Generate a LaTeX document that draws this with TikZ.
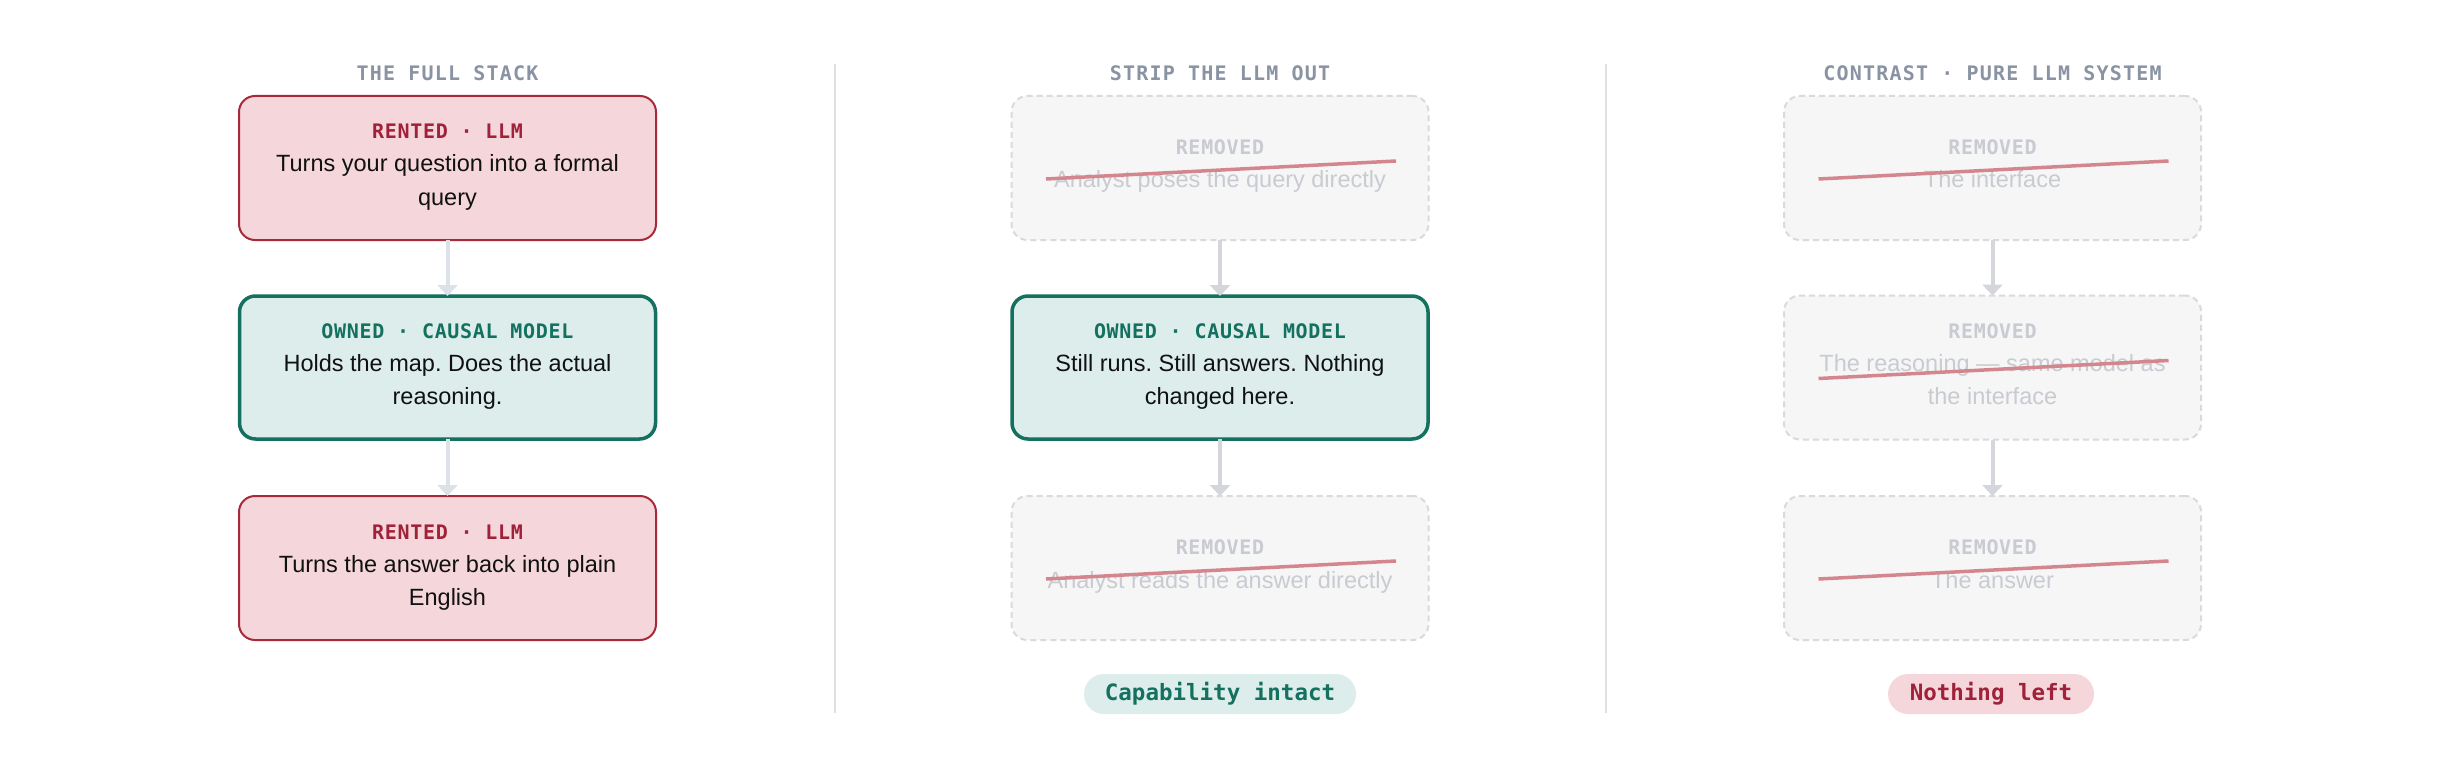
\documentclass[tikz,border=0pt]{standalone}
\usepackage{fontspec}
\setmainfont{Liberation Sans}
\newfontfamily\monolbl{DejaVu Sans Mono}[LetterSpace=3.5]
\newfontfamily\monottl{DejaVu Sans Mono}[LetterSpace=6]
\newfontfamily\monopill{DejaVu Sans Mono}
\usetikzlibrary{arrows.meta}
\frenchspacing
\definecolor{rentFill}{HTML}{F5D7DB}
\definecolor{rentLine}{HTML}{A8283C}
\definecolor{rentText}{HTML}{A0213A}
\definecolor{ownFill}{HTML}{DCEDEC}
\definecolor{ownLine}{HTML}{14705F}
\definecolor{ownText}{HTML}{14705F}
\definecolor{remFill}{HTML}{F6F6F6}
\definecolor{remLine}{HTML}{DADADE}
\definecolor{remText}{HTML}{C8CBD1}
\definecolor{strikeCol}{HTML}{D4868E}
\definecolor{ttlCol}{HTML}{8A93A3}
\definecolor{arrA}{HTML}{DDE1E8}
\definecolor{arrB}{HTML}{D4D6DB}
\definecolor{dividerCol}{HTML}{DDE0E5}
\definecolor{bodyCol}{HTML}{111111}
\begin{document}
\frenchspacing
\begin{tikzpicture}[x=1pt,y=-1pt,
  card/.style={rectangle, rounded corners=16pt, minimum width=417pt, minimum height=144pt, inner sep=0pt, outer sep=0pt},
  rented/.style={card, draw=rentLine, fill=rentFill, line width=2pt},
  owned/.style={card, draw=ownLine, fill=ownFill, line width=3.5pt, minimum width=416pt, minimum height=143pt},
  removed/.style={card, draw=remLine, fill=remFill, line width=2pt, dash pattern=on 6pt off 4pt},
  lbl/.style={anchor=base, inner sep=0pt, font=\monolbl\bfseries\fontsize{20}{24}\selectfont},
  body/.style={anchor=base, inner sep=0pt, font=\fontsize{23.5}{28}\selectfont\frenchspacing, text=bodyCol},
  rembody/.style={body, text=remText},
  ttl/.style={anchor=base, inner sep=0pt, text=ttlCol, font=\monottl\bfseries\fontsize{20}{24}\selectfont},
  pill/.style={rectangle, rounded corners=20pt, minimum height=40pt, inner sep=0pt, font=\monopill\bfseries\fontsize{22.5}{26}\selectfont},
  strikeline/.style={draw=strikeCol, line width=3.5pt},
  flowA/.style={draw=arrA, line width=4pt, -{Triangle[width=20pt,length=11pt]}},
  flowB/.style={draw=arrB, line width=4pt, -{Triangle[width=20pt,length=11pt]}},
  divline/.style={draw=dividerCol, line width=2pt}
]
\useasboundingbox (0,0) rectangle (2440,778);
\fill[white] (0,0) rectangle (2440,778);

% dividers
\coordinate (d1t) at (835,64);
\coordinate (d1b) at (835,713);
\coordinate (d2t) at (1606,64);
\coordinate (d2b) at (1606,713);
\draw[divline] (d1t) -- (d1b);
\draw[divline] (d2t) -- (d2b);

% titles
\node[ttl] (t1) at (447.5,80.5) {THE FULL STACK};
\node[ttl] (t2) at (1220,80.5) {STRIP THE LLM OUT};
\node[ttl] (t3) at (1992.5,80.5) {CONTRAST · PURE LLM SYSTEM};

% column 1
\node[rented] (r1) at (447.5,168) {};
\node[owned] (o1) at (447.5,367.5) {};
\node[rented] (r2) at (447.5,568) {};
\node[lbl, text=rentText] (r1l) at ([yshift=29pt]r1.center) {RENTED · LLM};
\node[body] (r1a) at ([yshift=-4pt]r1.center) {Turns your question into a formal};
\node[body] (r1b) at ([yshift=-37pt]r1.center) {query};
\node[lbl, text=ownText] (o1l) at ([yshift=29pt]o1.center) {OWNED · CAUSAL MODEL};
\node[body] (o1a) at ([yshift=-4pt]o1.center) {Holds the map. Does the actual};
\node[body] (o1b) at ([yshift=-37pt]o1.center) {reasoning.};
\node[lbl, text=rentText] (r2l) at ([yshift=29pt]r2.center) {RENTED · LLM};
\node[body] (r2a) at ([yshift=-4pt]r2.center) {Turns the answer back into plain};
\node[body] (r2b) at ([yshift=-37pt]r2.center) {English};
\draw[flowA] (r1.south) -- (o1.north);
\draw[flowA] (o1.south) -- (r2.north);

% column 2
\node[removed] (m1) at (1220,168) {};
\node[owned] (o2) at (1220,367.5) {};
\node[removed] (m2) at (1220,568) {};
\node[lbl, text=remText] (m1l) at ([yshift=13.5pt]m1.center) {REMOVED};
\node[rembody] (m1a) at ([yshift=-20pt]m1.center) {Analyst poses the query directly};
\draw[strikeline] ([shift={(-174,11)}]m1.center) -- ([shift={(176,-7)}]m1.center);
\node[lbl, text=ownText] (o2l) at ([yshift=29pt]o2.center) {OWNED · CAUSAL MODEL};
\node[body] (o2a) at ([yshift=-4pt]o2.center) {Still runs. Still answers. Nothing};
\node[body] (o2b) at ([yshift=-37pt]o2.center) {changed here.};
\node[lbl, text=remText] (m2l) at ([yshift=13.5pt]m2.center) {REMOVED};
\node[rembody] (m2a) at ([yshift=-20pt]m2.center) {Analyst reads the answer directly};
\draw[strikeline] ([shift={(-174,11)}]m2.center) -- ([shift={(176,-7)}]m2.center);
\draw[flowB] (m1.south) -- (o2.north);
\draw[flowB] (o2.south) -- (m2.north);
\node[pill, fill=ownFill, text=ownText, minimum width=272pt] (p1) at (1220,694) {Capability intact};

% column 3
\node[removed] (m3) at (1992.5,168) {};
\node[removed] (m4) at (1992.5,367.5) {};
\node[removed] (m5) at (1992.5,568) {};
\node[lbl, text=remText] (m3l) at ([yshift=13.5pt]m3.center) {REMOVED};
\node[rembody] (m3a) at ([yshift=-20pt]m3.center) {The interface};
\draw[strikeline] ([shift={(-174,11)}]m3.center) -- ([shift={(176,-7)}]m3.center);
\node[lbl, text=remText] (m4l) at ([yshift=29pt]m4.center) {REMOVED};
\node[rembody] (m4a) at ([yshift=-4pt]m4.center) {The reasoning — same model as};
\node[rembody] (m4b) at ([yshift=-37pt]m4.center) {the interface};
\draw[strikeline] ([shift={(-174,11)}]m4.center) -- ([shift={(176,-7)}]m4.center);
\node[lbl, text=remText] (m5l) at ([yshift=13.5pt]m5.center) {REMOVED};
\node[rembody] (m5a) at ([yshift=-20pt]m5.center) {The answer};
\draw[strikeline] ([shift={(-174,11)}]m5.center) -- ([shift={(176,-7)}]m5.center);
\draw[flowB] (m3.south) -- (m4.north);
\draw[flowB] (m4.south) -- (m5.north);
\node[pill, fill=rentFill, text=rentText, minimum width=206pt] (p2) at (1991,694) {Nothing left};
\end{tikzpicture}
\end{document}
